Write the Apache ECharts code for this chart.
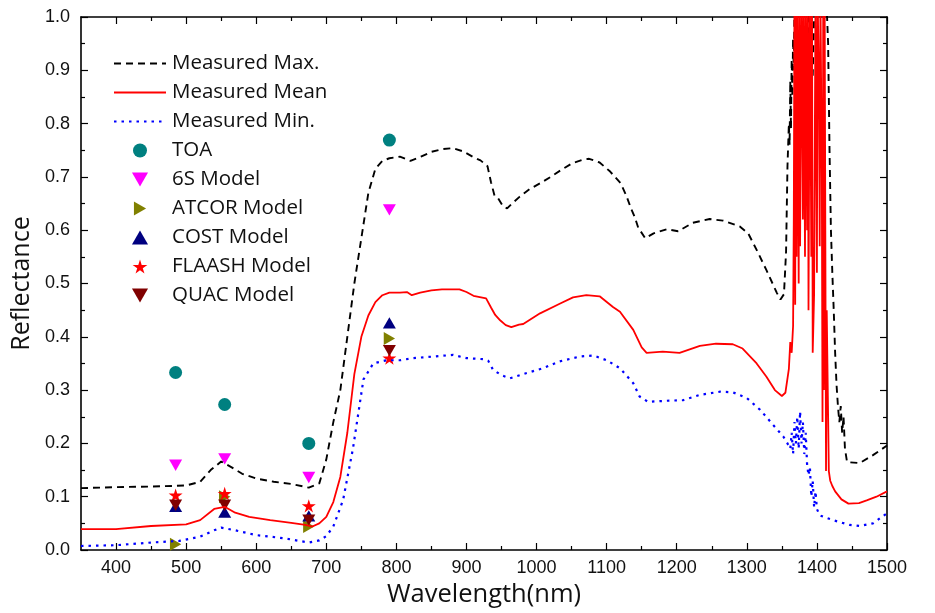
<!DOCTYPE html>
<html>
<head>
<meta charset="utf-8">
<script src="https://cdn.jsdelivr.net/npm/echarts@6/dist/echarts.min.js"></script>
<style>
  html, body { margin: 0; padding: 0; background: #fff; }
  #main { width: 935px; height: 613px; }
</style>
</head>
<body>
<div id="main"></div>
<script>
// 测量光谱 (wavelength nm -> reflectance)
var maxWl = [350, 400, 450, 500, 520, 535, 550, 565, 580, 600, 625, 650, 675, 690, 700, 710, 720, 730, 740, 750, 760, 770, 780, 790, 805, 820, 835, 850, 865, 880, 895, 910, 920, 930, 935, 940, 945, 952, 958, 965, 976, 990, 1005, 1020, 1035, 1050, 1065, 1075, 1090, 1105, 1120, 1128, 1135, 1140, 1145, 1155, 1167, 1186, 1202, 1223, 1247, 1266, 1290, 1302, 1314, 1328, 1343, 1348, 1353, 1356, 1358, 1360, 1361, 1362, 1363, 1364, 1365, 1366, 1367, 1368, 1370, 1385, 1388, 1390, 1392, 1394, 1396, 1398, 1413, 1416, 1418, 1420, 1422, 1424, 1426, 1428, 1430, 1432, 1434, 1436, 1438, 1440, 1443, 1461, 1480, 1500]
var maxVals = [0.116, 0.118, 0.119, 0.121, 0.128, 0.150, 0.166, 0.155, 0.143, 0.134, 0.128, 0.124, 0.117, 0.125, 0.17, 0.24, 0.30, 0.40, 0.50, 0.585, 0.67, 0.715, 0.73, 0.735, 0.738, 0.73, 0.738, 0.747, 0.752, 0.754, 0.748, 0.737, 0.731, 0.72, 0.69, 0.665, 0.66, 0.645, 0.641, 0.65, 0.663, 0.677, 0.688, 0.70, 0.713, 0.725, 0.732, 0.734, 0.727, 0.71, 0.688, 0.665, 0.64, 0.625, 0.605, 0.585, 0.594, 0.602, 0.598, 0.614, 0.621, 0.618, 0.607, 0.594, 0.563, 0.525, 0.482, 0.470, 0.48, 0.56, 0.72, 0.80, 0.76, 0.88, 0.79, 0.92, 0.85, 0.96, 0.90, 1.02, 1.05, 1.05, 1.0, 0.93, 0.90, 0.89, 1.0, 1.05, 1.05, 0.95, 0.75, 0.60, 0.52, 0.45, 0.37, 0.31, 0.27, 0.24, 0.27, 0.22, 0.25, 0.19, 0.165, 0.163, 0.178, 0.196]

var meanWl = [350, 400, 450, 500, 520, 540, 555, 570, 590, 620, 650, 670, 680, 690, 700, 710, 720, 730, 740, 750, 760, 770, 780, 790, 805, 815, 822, 834, 850, 865, 890, 900, 910, 928, 935, 941, 948, 956, 964, 975, 981, 1005, 1033, 1052, 1071, 1090, 1109, 1119, 1138, 1150, 1157, 1180, 1204, 1233, 1256, 1280, 1294, 1314, 1328, 1340, 1350, 1355, 1360, 1362, 1364, 1366, 1367, 1368, 1369, 1370, 1371, 1372, 1374, 1375, 1376, 1378, 1380, 1381, 1383, 1384, 1386, 1387, 1388, 1390, 1392, 1393, 1394, 1396, 1398, 1400, 1401, 1403, 1404, 1405, 1407, 1408, 1409, 1410, 1411, 1413, 1414, 1416, 1417, 1419, 1422, 1426, 1435, 1445, 1460, 1471, 1485, 1500]
var meanVals = [0.039, 0.039, 0.045, 0.048, 0.056, 0.077, 0.081, 0.070, 0.062, 0.056, 0.051, 0.047, 0.044, 0.050, 0.062, 0.09, 0.137, 0.22, 0.33, 0.40, 0.44, 0.465, 0.478, 0.483, 0.483, 0.484, 0.478, 0.483, 0.487, 0.489, 0.489, 0.484, 0.477, 0.472, 0.455, 0.441, 0.431, 0.422, 0.418, 0.423, 0.424, 0.444, 0.462, 0.474, 0.478, 0.476, 0.456, 0.447, 0.413, 0.38, 0.37, 0.372, 0.37, 0.383, 0.387, 0.386, 0.378, 0.35, 0.325, 0.30, 0.289, 0.295, 0.34, 0.39, 0.37, 0.42, 0.62, 1.05, 0.46, 1.05, 0.55, 1.05, 0.50, 1.05, 0.57, 1.05, 0.62, 1.05, 0.55, 1.05, 0.60, 1.05, 0.45, 1.05, 0.55, 1.05, 0.37, 0.48, 1.05, 0.52, 1.05, 0.85, 0.57, 1.05, 0.70, 0.24, 1.05, 0.30, 1.05, 0.148, 0.45, 0.25, 0.148, 0.13, 0.12, 0.11, 0.095, 0.087, 0.088, 0.093, 0.100, 0.110]

var minWl = [350, 400, 450, 490, 520, 540, 550, 570, 600, 640, 675, 690, 700, 710, 724, 738, 753, 767, 786, 805, 824, 853, 881, 900, 924, 931, 938, 950, 962, 986, 1009, 1033, 1062, 1081, 1100, 1119, 1138, 1147, 1159, 1186, 1209, 1233, 1262, 1280, 1300, 1319, 1338, 1352, 1358, 1360, 1362, 1364, 1366, 1368, 1370, 1372, 1374, 1376, 1378, 1380, 1382, 1384, 1386, 1388, 1390, 1392, 1394, 1396, 1398, 1400, 1404, 1410, 1423, 1447, 1461, 1480, 1500]
var minVals = [0.0075, 0.009, 0.014, 0.017, 0.025, 0.037, 0.042, 0.037, 0.028, 0.022, 0.014, 0.018, 0.026, 0.044, 0.094, 0.19, 0.32, 0.35, 0.356, 0.356, 0.36, 0.363, 0.366, 0.36, 0.358, 0.355, 0.338, 0.328, 0.322, 0.332, 0.341, 0.354, 0.363, 0.365, 0.356, 0.341, 0.313, 0.288, 0.278, 0.28, 0.281, 0.291, 0.297, 0.296, 0.285, 0.263, 0.234, 0.213, 0.20, 0.20, 0.19, 0.22, 0.18, 0.24, 0.20, 0.25, 0.19, 0.26, 0.20, 0.24, 0.18, 0.22, 0.16, 0.14, 0.155, 0.10, 0.13, 0.08, 0.11, 0.077, 0.065, 0.062, 0.056, 0.047, 0.045, 0.05, 0.069]

// 卫星波段与各模型反射率
var bandWl = [485, 555, 675, 790]
var toaVals = [0.333, 0.273, 0.200, 0.769]
var s6Vals = [0.159, 0.171, 0.136, 0.638]
var atcorVals = [0.011, 0.100, 0.044, 0.397]
var costVals = [0.082, 0.071, 0.064, 0.426]
var flaashVals = [0.103, 0.106, 0.083, 0.360]
var quacVals = [0.084, 0.084, 0.056, 0.374]

var xLabels = [400, 500, 600, 700, 800, 900, 1000, 1100, 1200, 1300, 1400, 1500]
var xMinor = [450, 550, 650, 750, 850, 950, 1050, 1150, 1250, 1350, 1450]

function pairs(xs, ys) {
  return xs.map(function (x, i) { return [x, ys[i]] })
}

var star = 'path://M50,0 L61,35 L98,35 L68,57 L79,91 L50,70 L21,91 L32,57 L2,35 L39,35 Z'
var triUp = 'path://M50,0 L100,87 L0,87 Z'
var triDown = 'path://M0,0 L100,0 L50,87 Z'
var triRight = 'path://M0,0 L87,50 L0,100 Z'
var labelFont = 'Liberation Sans'
var textFont = 'Open Sans'

function xAx(pos, vals, len, showLine, showLabel) {
  return {
    type: 'value', position: pos, min: 350, max: 1500,
    axisLine: { show: showLine, onZero: false, lineStyle: { color: '#000', width: 1.6 } },
    axisTick: { show: true, inside: true, length: len, customValues: vals, lineStyle: { color: '#000', width: 1.2 } },
    axisLabel: {
      show: showLabel, customValues: vals, margin: 9, color: '#111', fontSize: 18, fontFamily: labelFont,
      formatter: function (v) { return String(v) }
    },
    splitLine: { show: false }
  }
}

function yAx(pos, showLabel) {
  return {
    type: 'value', position: pos, min: 0, max: 1, interval: 0.1,
    axisLine: { show: true, onZero: false, lineStyle: { color: '#000', width: 1.6 } },
    axisTick: { show: true, inside: true, length: 7, lineStyle: { color: '#000', width: 1.2 } },
    minorTick: { show: true, splitNumber: 2, length: 4, lineStyle: { color: '#000', width: 1.2 } },
    axisLabel: {
      show: showLabel, margin: 11, color: '#111', fontSize: 18, fontFamily: labelFont,
      formatter: function (v) { return v.toFixed(1) }
    },
    splitLine: { show: false }
  }
}

var xMain = xAx('bottom', xLabels, 7, true, true)
xMain.name = 'Wavelength(nm)'
xMain.nameLocation = 'middle'
xMain.nameGap = 32
xMain.nameTextStyle = { fontSize: 25.5, fontFamily: textFont, color: '#111' }

var yMain = yAx('left', true)
yMain.name = 'Reflectance'
yMain.nameLocation = 'middle'
yMain.nameGap = 34
yMain.nameTextStyle = { fontSize: 25, fontFamily: textFont, color: '#111' }

var hideSym = { opacity: 0 }
var chart = echarts.init(document.getElementById('main'))
chart.setOption({
  animation: false,
  backgroundColor: '#fff',
  grid: { left: 81, right: 48, top: 17, bottom: 63 },
  legend: {
    orient: 'vertical', left: 108, top: 48,
    itemWidth: 52, itemHeight: 14, itemGap: 8,
    symbolKeepAspect: true,
    textStyle: { fontSize: 20.5, fontFamily: textFont, color: '#111', padding: [0, 0, 0, 1] },
    data: [
      { name: 'Measured Max.', itemStyle: hideSym },
      { name: 'Measured Mean', itemStyle: hideSym },
      { name: 'Measured Min.', itemStyle: hideSym },
      { name: 'TOA', icon: 'circle' },
      { name: '6S Model', icon: triDown },
      { name: 'ATCOR Model', icon: triRight },
      { name: 'COST Model', icon: triUp },
      { name: 'FLAASH Model', icon: star },
      { name: 'QUAC Model', icon: triDown }
    ]
  },
  xAxis: [
    xMain,
    xAx('bottom', xMinor, 4, false, false),
    xAx('top', xLabels, 7, true, false),
    xAx('top', xMinor, 4, false, false)
  ],
  yAxis: [yMain, yAx('right', false)],
  series: [
    {
      name: 'Measured Max.', type: 'line', symbol: 'none', clip: true,
      data: pairs(maxWl, maxVals),
      lineStyle: { color: '#000', width: 1.9, type: [7, 5] }, itemStyle: { color: '#000' }
    },
    {
      name: 'Measured Mean', type: 'line', symbol: 'none', clip: true,
      data: pairs(meanWl, meanVals),
      lineStyle: { color: '#ff0000', width: 1.8 }, itemStyle: { color: '#ff0000' }
    },
    {
      name: 'Measured Min.', type: 'line', symbol: 'none', clip: true,
      data: pairs(minWl, minVals),
      lineStyle: { color: '#0000ff', width: 2.2, type: [2.5, 5] }, itemStyle: { color: '#0000ff' }
    },
    { name: 'TOA', type: 'scatter', symbol: 'circle', symbolSize: 13, data: pairs(bandWl, toaVals), itemStyle: { color: '#008080', opacity: 1 } },
    { name: '6S Model', type: 'scatter', symbol: triDown, symbolSize: 13, symbolKeepAspect: true, data: pairs(bandWl, s6Vals), itemStyle: { color: '#ff00ff', opacity: 1 } },
    { name: 'ATCOR Model', type: 'scatter', symbol: triRight, symbolSize: 13, symbolKeepAspect: true, data: pairs(bandWl, atcorVals), itemStyle: { color: '#808000', opacity: 1 } },
    { name: 'COST Model', type: 'scatter', symbol: triUp, symbolSize: 13, symbolKeepAspect: true, data: pairs(bandWl, costVals), itemStyle: { color: '#000080', opacity: 1 } },
    { name: 'FLAASH Model', type: 'scatter', symbol: star, symbolSize: 14, symbolKeepAspect: true, data: pairs(bandWl, flaashVals), itemStyle: { color: '#ff0000', opacity: 1 } },
    { name: 'QUAC Model', type: 'scatter', symbol: triDown, symbolSize: 13, symbolKeepAspect: true, data: pairs(bandWl, quacVals), itemStyle: { color: '#800000', opacity: 1 } }
  ]
})
</script>
</body>
</html>
